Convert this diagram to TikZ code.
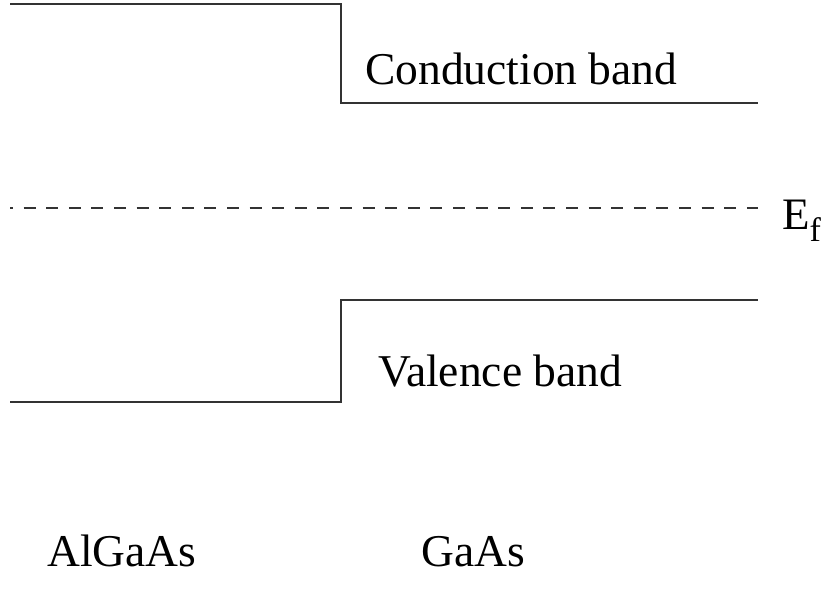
\documentclass[tikz,border=0pt]{standalone}
\usepackage{fontspec}
\setmainfont{Liberation Serif}
\begin{document}
\begin{tikzpicture}[x=1pt,y=-1pt,
  band/.style={draw=black!80,line width=1.3pt},
  lbl/.style={anchor=base west,inner sep=0pt,font=\fontsize{45.5}{54}\selectfont}]
\useasboundingbox (0,0) rectangle (827,593);
% conduction band
\coordinate (c1) at (10,4);
\coordinate (c2) at (341,4);
\coordinate (c3) at (341,103);
\coordinate (c4) at (758,103);
\draw[band] (c1) -- (c2) -- (c3) -- (c4);
% valence band
\coordinate (v1) at (10,402);
\coordinate (v2) at (341,402);
\coordinate (v3) at (341,300);
\coordinate (v4) at (758,300);
\draw[band] (v1) -- (v2) -- (v3) -- (v4);
% Fermi level
\coordinate (f1) at (10,208);
\coordinate (f2) at (758,208);
\draw[band,dash pattern=on 12pt off 10.6pt,dash phase=9pt] (f1) -- (f2);
% labels
\node[lbl] (cb) at (365,85) {Conduction band};
\node[lbl] (vb) at (378,386) {Valence band};
\node[lbl] (al) at (47,566) {AlGaAs};
\node[lbl] (ga) at (421,566) {GaAs};
\node[anchor=base west,inner sep=0pt,font=\fontsize{45}{54}\selectfont] (ef) at (782,230)
  {E\raisebox{-12pt}{\fontsize{34}{40}\selectfont f}};
\end{tikzpicture}
\end{document}
